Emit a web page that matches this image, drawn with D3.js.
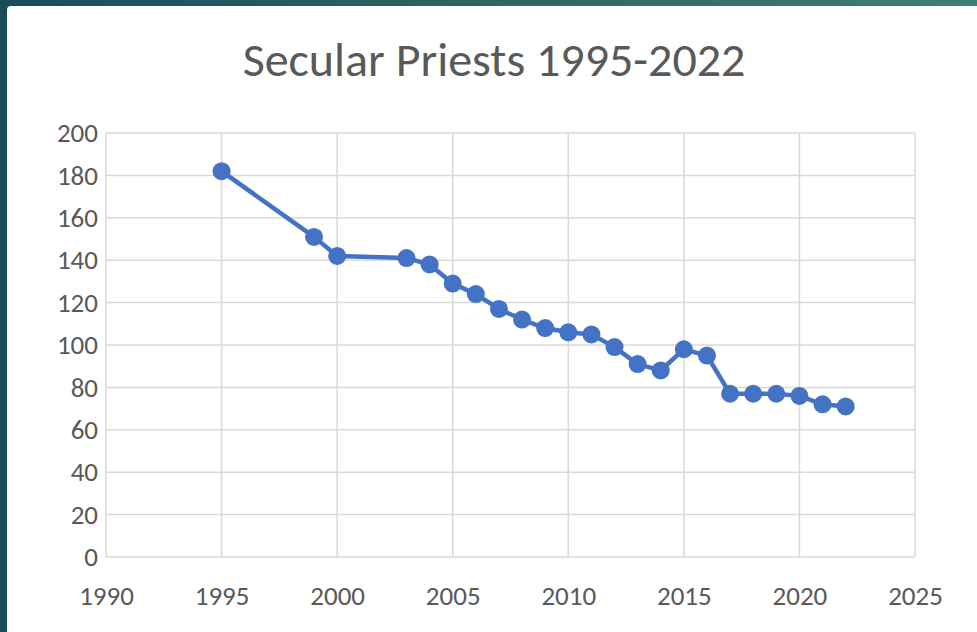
<!DOCTYPE html>
<html>
<head>
<meta charset="utf-8">
<script src="https://cdn.jsdelivr.net/npm/d3@7"></script>
<style>
  html, body { margin: 0; padding: 0; background: #1d545b; }
  svg { display: block; }
</style>
</head>
<body>
<div id="chart"></div>
<script>
(function () {
  const years = [1995, 1999, 2000, 2003, 2004, 2005, 2006, 2007, 2008, 2009, 2010, 2011,
    2012, 2013, 2014, 2015, 2016, 2017, 2018, 2019, 2020, 2021, 2022];
  const priests = [182, 151, 142, 141, 138, 129, 124, 117, 112, 108, 106, 105,
    99, 91, 88, 98, 95, 77, 77, 77, 76, 72, 71];
  const xTicks = [1990, 1995, 2000, 2005, 2010, 2015, 2020, 2025];
  const yTicks = [0, 20, 40, 60, 80, 100, 120, 140, 160, 180, 200];
  const title = "Secular Priests 1995-2022";

  const width = 977, height = 632;
  const font = "Carlito, 'Open Sans', 'Noto Sans', sans-serif";

  const svg = d3.select("#chart").append("svg")
    .attr("width", width)
    .attr("height", height);

  // teal frame at top and left
  const grad = svg.append("defs").append("linearGradient")
    .attr("id", "frame").attr("x1", 0).attr("x2", 1);
  grad.append("stop").attr("offset", 0).attr("stop-color", "#1b4c57");
  grad.append("stop").attr("offset", 1).attr("stop-color", "#3e7f73");
  svg.append("rect").attr("width", width).attr("height", height).attr("fill", "url(#frame)");

  svg.append("rect")
    .attr("x", 7).attr("y", 6)
    .attr("width", width).attr("height", height)
    .attr("rx", 4)
    .attr("fill", "#fff");

  const x = d3.scaleLinear().domain([1990, 2025]).range([106, 915]);
  const y = d3.scaleLinear().domain([0, 200]).range([557, 133]);

  // gridlines
  svg.append("g").selectAll("line")
    .data(yTicks)
    .enter().append("line")
    .attr("x1", x(1990)).attr("x2", x(2025))
    .attr("y1", d => y(d)).attr("y2", d => y(d))
    .attr("stroke", "#d9d9d9").attr("stroke-width", 1.5);

  svg.append("g").selectAll("line")
    .data(xTicks)
    .enter().append("line")
    .attr("x1", d => x(d)).attr("x2", d => x(d))
    .attr("y1", y(0)).attr("y2", y(200))
    .attr("stroke", "#d9d9d9").attr("stroke-width", 1.5);

  // axes, drawn as labels only
  const yAxis = svg.append("g")
    .attr("transform", `translate(${x(1990) - 8},0)`)
    .call(d3.axisLeft(y).tickValues(yTicks).tickSize(0).tickPadding(0));
  const xAxis = svg.append("g")
    .attr("transform", `translate(0,${y(0) + 26})`)
    .call(d3.axisBottom(x).tickValues(xTicks).tickFormat(d3.format("d")).tickSize(0).tickPadding(0));

  [yAxis, xAxis].forEach(a => {
    a.select(".domain").remove();
    a.selectAll("text")
      .style("font-family", font)
      .style("font-size", "27px")
      .attr("fill", "#595959");
  });
  xAxis.selectAll("text").attr("dy", "0.8em");

  // title
  svg.append("text")
    .attr("x", 494)
    .attr("y", 76)
    .attr("text-anchor", "middle")
    .style("font-family", font)
    .style("font-size", "48px")
    .attr("fill", "#595959")
    .text(title);

  const points = years.map((yr, i) => ({ year: yr, value: priests[i] }));

  svg.append("path")
    .datum(points)
    .attr("fill", "none")
    .attr("stroke", "#4472c4")
    .attr("stroke-width", 4.5)
    .attr("stroke-linejoin", "round")
    .attr("d", d3.line().x(d => x(d.year)).y(d => y(d.value)));

  svg.append("g").selectAll("circle")
    .data(points)
    .enter().append("circle")
    .attr("cx", d => x(d.year))
    .attr("cy", d => y(d.value))
    .attr("r", 9)
    .attr("fill", "#4472c4");
})();
</script>
</body>
</html>
